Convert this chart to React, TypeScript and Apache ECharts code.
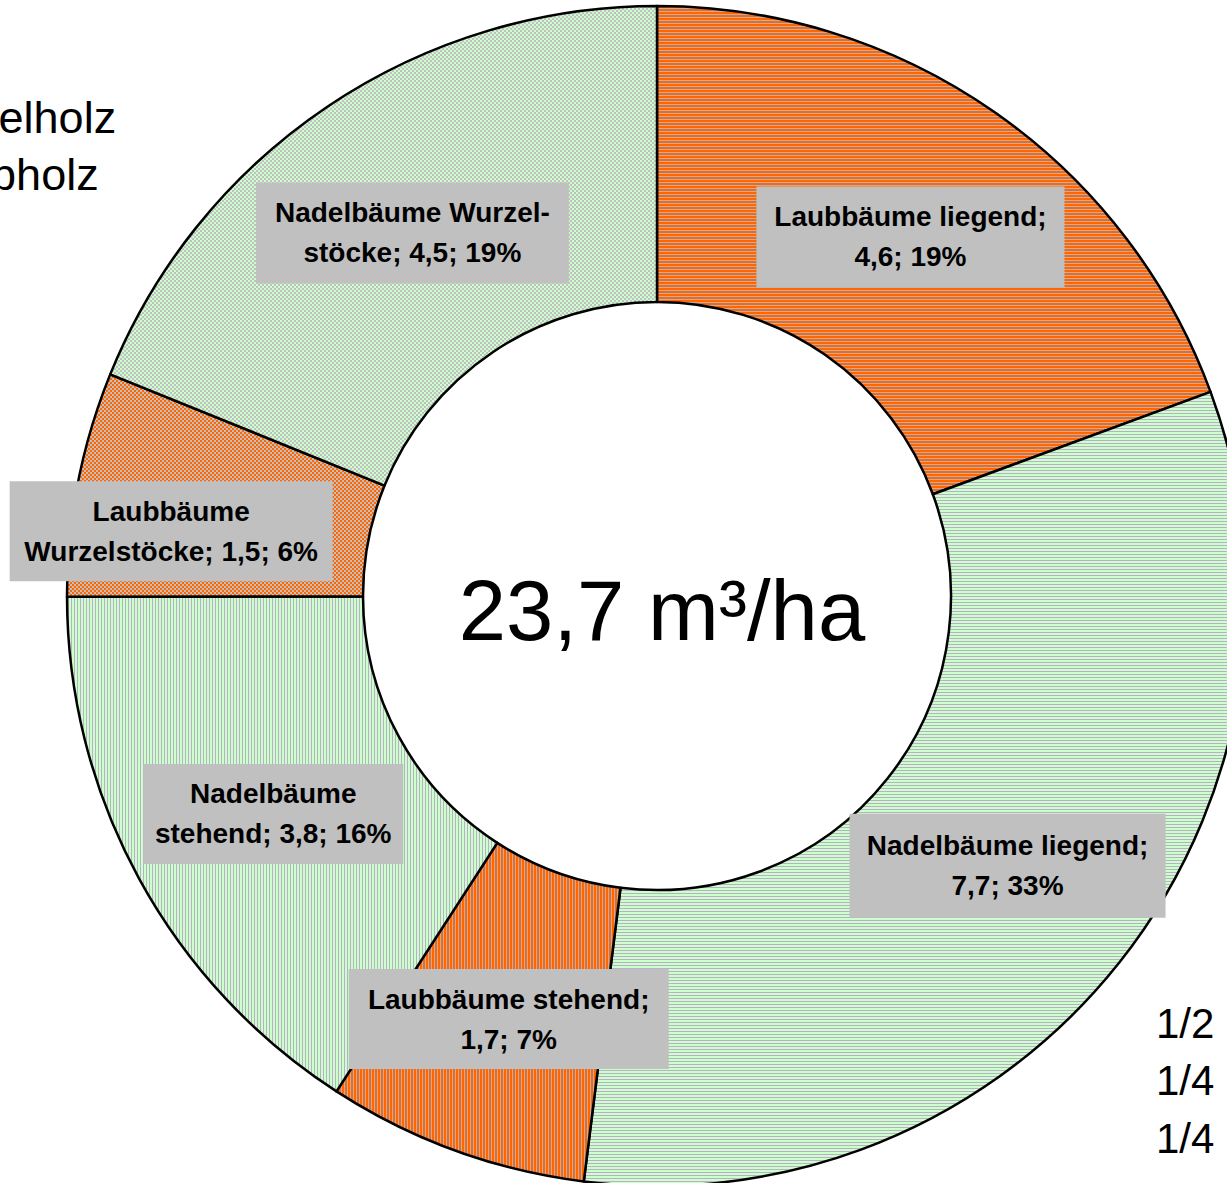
import React, { useEffect, useRef } from "react";
import * as echarts from "echarts";

// ---- data ----
const categories = [
  "Laubbäume liegend",
  "Nadelbäume liegend",
  "Laubbäume stehend",
  "Nadelbäume\nstehend",
  "Laubbäume\nWurzelstöcke",
  "Nadelbäume Wurzel-\nstöcke",
];
// m³/ha (labels show one decimal)
const values = [4.6, 7.74, 1.7, 3.76, 1.46, 4.48];
const centerLabel = "23,7 m³/ha";
const legendTexts = ["Nadelholz", "Laubholz"];
const fractionTexts = ["1/2", "1/4", "1/4"];

// ---- style ----
const ORANGE = "#ff6600";
const GREEN = "#ccffcc";
const GRAY_O = "#b8b0b8";
const GRAY_G = "#b8b0c4";
const patternKinds = ["h", "h", "v", "v", "c", "c"];
const patternColors = [ORANGE, GREEN, ORANGE, GREEN, ORANGE, GREEN];
const labelBoxes = [
  { w: 308, h: 101, off: [-1, 6] },
  { w: 316, h: 104, off: [2, -7] },
  { w: 320, h: 100, off: [4, 5] },
  { w: 260, h: 100, off: [7, 5] },
  { w: 323, h: 100, off: [-49, 20] },
  { w: 313, h: 101, off: [4, 6] },
];

function makePattern(kind: string, color: string) {
  const c = document.createElement("canvas");
  const ctx = c.getContext("2d")!;
  if (kind === "c") {
    c.width = 4;
    c.height = 4;
    ctx.fillStyle = "#c0c0c0";
    ctx.fillRect(0, 0, 4, 4);
    ctx.fillStyle = color;
    ctx.fillRect(0, 0, 2, 2);
    ctx.fillRect(2, 2, 2, 2);
  } else {
    c.width = 3;
    c.height = 3;
    const gray = color === ORANGE ? GRAY_O : GRAY_G;
    ctx.fillStyle = color;
    ctx.fillRect(0, 0, 3, 3);
    ctx.fillStyle = gray;
    if (kind === "h") ctx.fillRect(0, 2, 3, 1);
    else ctx.fillRect(2, 0, 1, 3);
  }
  return { image: c, repeat: "repeat" } as any;
}

function fmt(v: number) {
  return v.toFixed(1).replace(".", ",");
}

export default function App() {
  const ref = useRef<HTMLDivElement>(null);
  useEffect(() => {
    document.body.style.margin = "0";
    const chart = echarts.init(ref.current!, null, { renderer: "svg" });
    const total = values.reduce((a, b) => a + b, 0);
    const data = values.map((v, i) => ({
      value: v,
      name: categories[i],
      itemStyle: { color: makePattern(patternKinds[i], patternColors[i]) },
      label: {
        width: labelBoxes[i].w,
        height: labelBoxes[i].h,
        offset: labelBoxes[i].off,
      },
    }));
    chart.setOption({
      animation: false,
      backgroundColor: "#ffffff",
      series: [
        {
          type: "pie",
          center: [657, 596],
          radius: [294, 590],
          startAngle: 90,
          clockwise: true,
          avoidLabelOverlap: false,
          itemStyle: { borderColor: "#000000", borderWidth: 2.5 },
          emphasis: { disabled: true },
          labelLine: { show: false },
          label: {
            show: true,
            position: "inside",
            formatter: (p: any) => {
              const i = p.dataIndex;
              const n = categories[i];
              const pct = Math.round((values[i] / total) * 100);
              return n.includes("\n")
                ? `${n}; ${fmt(values[i])}; ${pct}%`
                : `${n};\n${fmt(values[i])}; ${pct}%`;
            },
            backgroundColor: "#c0c0c0",
            color: "#000000",
            fontFamily: "Liberation Sans, Arial, sans-serif",
            fontWeight: "bold",
            fontSize: 28,
            lineHeight: 40,
            align: "center",
            verticalAlign: "middle",
            overflow: "none",
            padding: 0,
          },
          data,
        },
      ],
      graphic: [
        {
          type: "text",
          x: 662,
          y: 610,
          style: {
            text: centerLabel,
            fontFamily: "Liberation Sans, Arial, sans-serif",
            fontSize: 85,
            fill: "#000",
            align: "center",
            verticalAlign: "middle",
          },
        },
        ...legendTexts.map((t, i) => ({
          type: "text",
          x: -84,
          y: 117 + i * 57,
          style: {
            text: t,
            fontFamily: "Liberation Sans, Arial, sans-serif",
            fontSize: 45,
            fill: "#000",
            align: "left",
            verticalAlign: "middle",
          },
        })),
        ...fractionTexts.map((t, i) => ({
          type: "text",
          x: 1156,
          y: 1023 + i * 57.5,
          style: {
            text: t,
            fontFamily: "Liberation Sans, Arial, sans-serif",
            fontSize: 42,
            fill: "#000",
            align: "left",
            verticalAlign: "middle",
          },
        })),
      ],
    });
    return () => chart.dispose();
  }, []);
  return <div ref={ref} style={{ width: 1227, height: 1183 }} />;
}
